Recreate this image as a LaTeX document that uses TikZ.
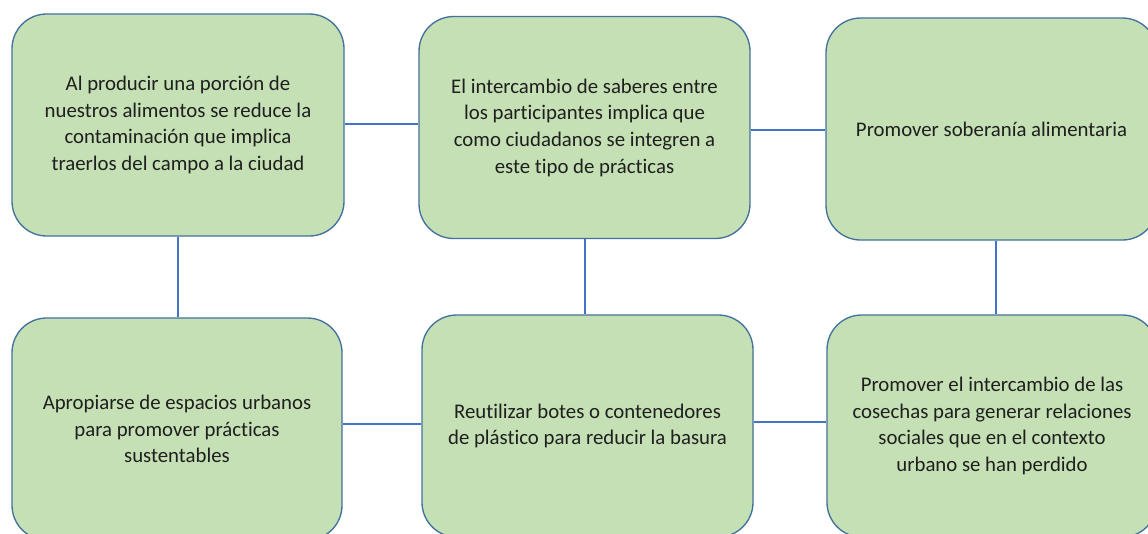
\documentclass[tikz,border=0pt]{standalone}
\usepackage{fontspec}
\setmainfont{Carlito}[Ligatures={NoCommon}]
\definecolor{boxfill}{HTML}{C5E0B4}
\definecolor{boxline}{HTML}{41719C}
\definecolor{conn}{HTML}{4472C4}
\begin{document}
\begin{tikzpicture}[x=0.75pt,y=-0.75pt,
  card/.style={draw=boxline,fill=boxfill,line width=1pt,rounded corners=26pt,
    minimum width=#1*0.75pt,minimum height=166.5pt,align=center,inner sep=0pt,
    font=\fontsize{15.6}{20}\selectfont,text=black!88},
  card/.default=331,
  link/.style={draw=conn,line width=0.8pt}]
\useasboundingbox (0,0) rectangle (1148,533);
\clip (0,0) rectangle (1148,533);
\node[card=332] (b1) at (178,125) {Al producir una porción de\\nuestros alimentos se reduce la\\contaminación que implica\\traerlos del campo a la ciudad};
\node[card] (b2) at (584.5,127.5) {El intercambio de saberes entre\\los participantes implica que\\como ciudadanos se integren a\\este tipo de prácticas};
\node[card] (b3) at (991.5,129) {Promover soberanía alimentaria};
\node[card=330] (b4) at (177,429) {Apropiarse de espacios urbanos\\para promover prácticas\\sustentables};
\node[card] (b5) at (587.5,426) {Reutilizar botes o contenedores\\de plástico para reducir la basura};
\node[card=330] (b6) at (992,426) {Promover el intercambio de las\\cosechas para generar relaciones\\sociales que en el contexto\\urbano se han perdido};
\coordinate (h12) at (0,124);
\coordinate (h23) at (0,130);
\coordinate (h45) at (0,424);
\coordinate (h56) at (0,422);
\coordinate (v14) at (178,0);
\coordinate (v25) at (585,0);
\coordinate (v36) at (996,0);
\draw[link] (b1.east |- h12) -- (b2.west |- h12);
\draw[link] (b2.east |- h23) -- (b3.west |- h23);
\draw[link] (b4.east |- h45) -- (b5.west |- h45);
\draw[link] (b5.east |- h56) -- (b6.west |- h56);
\draw[link] (b1.south -| v14) -- (b4.north -| v14);
\draw[link] (b2.south -| v25) -- (b5.north -| v25);
\draw[link] (b3.south -| v36) -- (b6.north -| v36);
\end{tikzpicture}
\end{document}
